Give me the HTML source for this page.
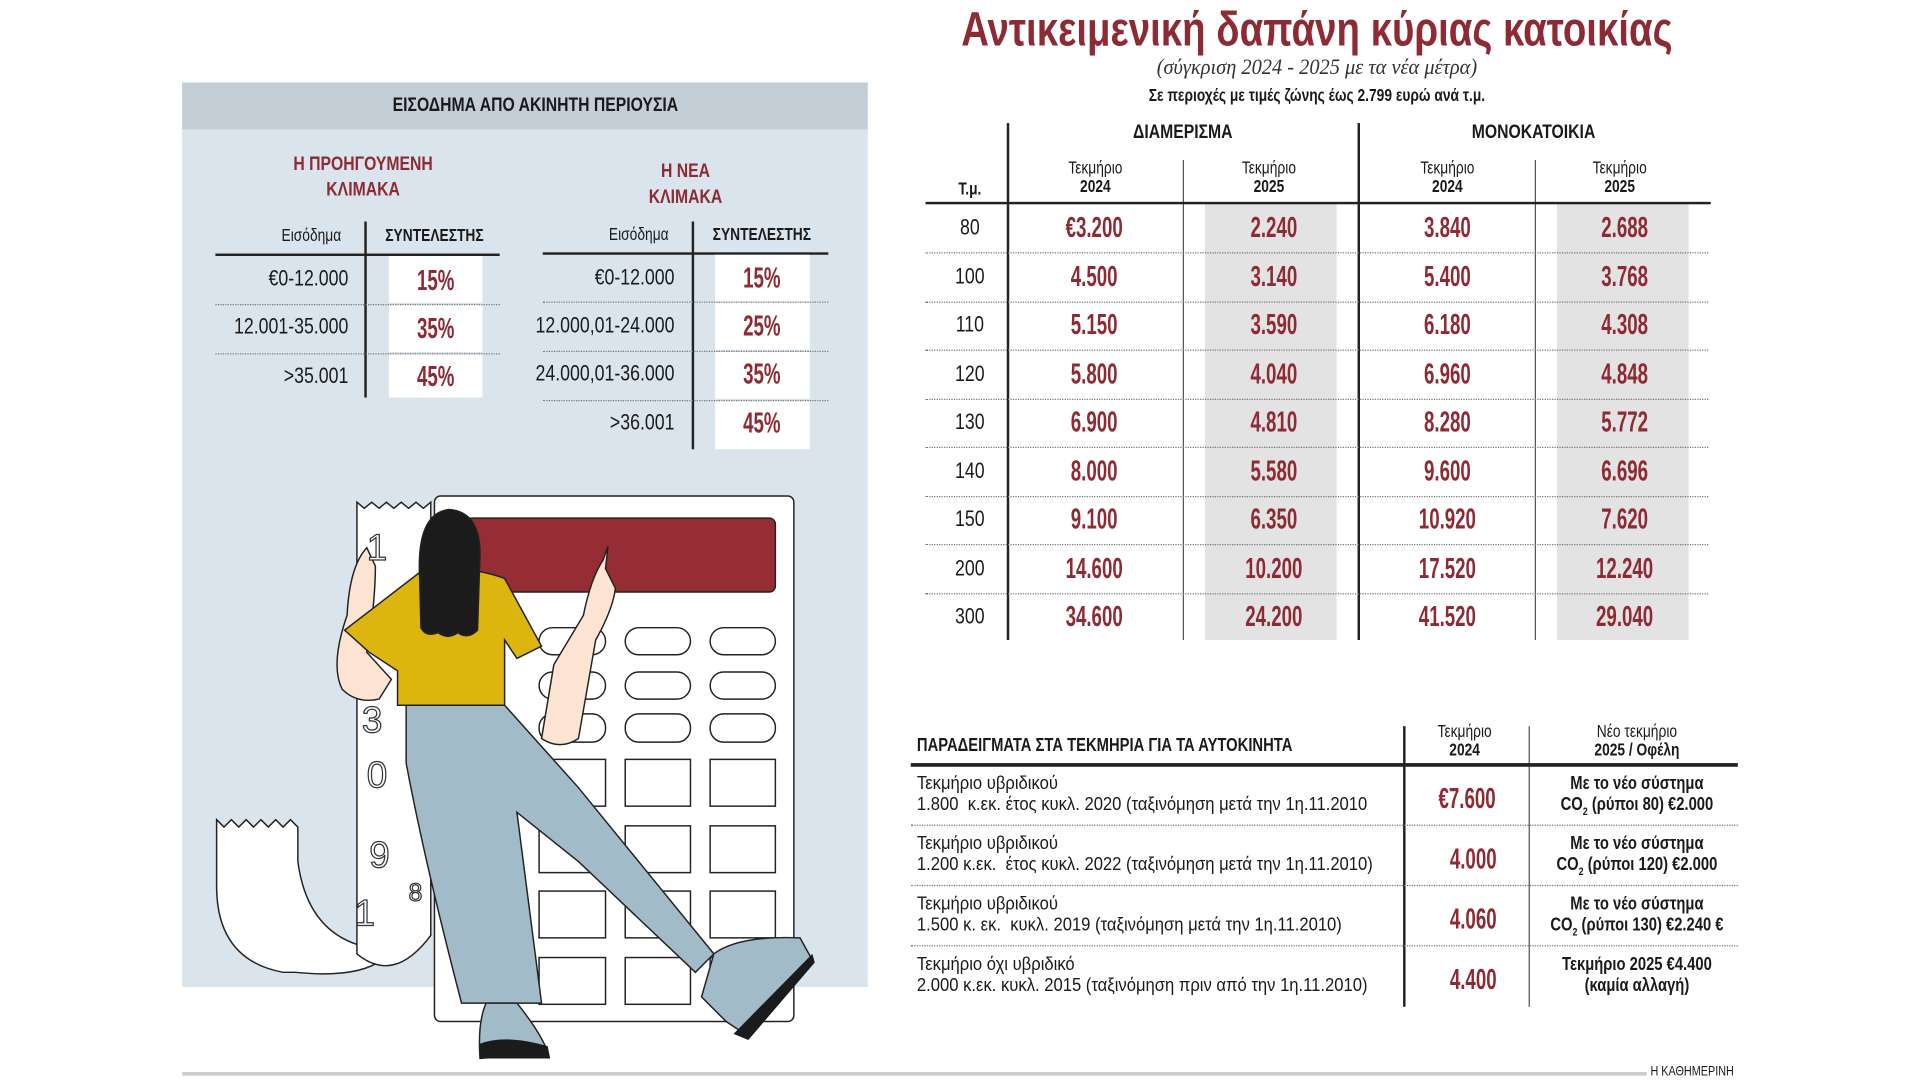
<!DOCTYPE html>
<html><head><meta charset="utf-8"><style>
html,body{margin:0;padding:0;background:#fff;width:1920px;height:1080px;overflow:hidden}
#w{position:absolute;left:0;top:0;width:1560px;height:878px;transform:scale(1.230769);transform-origin:0 0;font-family:"Liberation Sans",sans-serif;color:#1a1a1a}
.a{position:absolute;white-space:nowrap}
.t{transform:scaleX(.8);transform-origin:0 0}
.c{transform:translateX(-50%) scaleX(.8);text-align:center;transform-origin:50% 0}
.r{transform:translateX(-100%) scaleX(.8);transform-origin:100% 0}
.red{color:#8e2a33}
.b{font-weight:bold}
.num{font-size:23px;transform:translate(-50%,-50%) scaleX(0.66);font-weight:bold}
.hl{position:absolute;height:0;border-top:1px dotted #777}
.vl{position:absolute;width:0;border-left:2px solid #222}
</style></head><body><div id="w">

<div class="a" style="left:148px;top:67px;width:557px;height:735px;background:#d9e4ec"></div>
<div class="a" style="left:148px;top:67px;width:557px;height:38px;background:#c3ced7"></div>
<div class="a b c" style="left:435px;top:77px;font-size:16px">ΕΙΣΟΔΗΜΑ ΑΠΟ ΑΚΙΝΗΤΗ ΠΕΡΙΟΥΣΙΑ</div>
<div class="a b c red" style="left:295px;top:123px;font-size:16px;line-height:21px">Η ΠΡΟΗΓΟΥΜΕΝΗ<br>ΚΛΙΜΑΚΑ</div>
<div class="a b c red" style="left:557px;top:129px;font-size:16px;line-height:21px">Η ΝΕΑ<br>ΚΛΙΜΑΚΑ</div>

<div class="a c" style="left:253px;top:183px;font-size:14px">Εισόδημα</div>
<div class="a b c" style="left:353px;top:183px;font-size:14px">ΣΥΝΤΕΛΕΣΤΗΣ</div>
<div class="a" style="left:175px;top:206px;width:231px;height:2px;background:#222"></div>
<div class="vl" style="left:296px;top:180px;height:143px"></div>
<div class="a" style="left:316px;top:208px;width:76px;height:38px;background:#fff"></div>
<div class="a" style="left:316px;top:248px;width:76px;height:38px;background:#fff"></div>
<div class="a" style="left:316px;top:288px;width:76px;height:35px;background:#fff"></div>
<div class="hl" style="left:175px;top:247px;width:231px"></div>
<div class="hl" style="left:175px;top:287px;width:231px"></div>
<div class="a r" style="left:283px;top:216px;font-size:18px">€0-12.000</div>
<div class="a r" style="left:283px;top:255px;font-size:18px">12.001-35.000</div>
<div class="a r" style="left:283px;top:295px;font-size:18px">&gt;35.001</div>
<div class="a red num" style="left:354px;top:228px">15%</div>
<div class="a red num" style="left:354px;top:267px">35%</div>
<div class="a red num" style="left:354px;top:306px">45%</div>

<div class="a c" style="left:519px;top:182px;font-size:14px">Εισόδημα</div>
<div class="a b c" style="left:619px;top:182px;font-size:14px">ΣΥΝΤΕΛΕΣΤΗΣ</div>
<div class="a" style="left:441px;top:205px;width:232px;height:2px;background:#222"></div>
<div class="vl" style="left:562px;top:180px;height:185px"></div>
<div class="a" style="left:581px;top:207px;width:77px;height:38px;background:#fff"></div>
<div class="a" style="left:581px;top:246px;width:77px;height:38px;background:#fff"></div>
<div class="a" style="left:581px;top:286px;width:77px;height:38px;background:#fff"></div>
<div class="a" style="left:581px;top:326px;width:77px;height:39px;background:#fff"></div>
<div class="hl" style="left:441px;top:245px;width:232px"></div>
<div class="hl" style="left:441px;top:285px;width:232px"></div>
<div class="hl" style="left:441px;top:325px;width:232px"></div>
<div class="a r" style="left:548px;top:215px;font-size:18px">€0-12.000</div>
<div class="a r" style="left:548px;top:254px;font-size:18px">12.000,01-24.000</div>
<div class="a r" style="left:548px;top:293px;font-size:18px">24.000,01-36.000</div>
<div class="a r" style="left:548px;top:333px;font-size:18px">&gt;36.001</div>
<div class="a red num" style="left:619px;top:226px">15%</div>
<div class="a red num" style="left:619px;top:265px">25%</div>
<div class="a red num" style="left:619px;top:304px">35%</div>
<div class="a red num" style="left:619px;top:344px">45%</div>

<svg class="a" style="left:0;top:0" width="800" height="878" viewBox="0 0 800 878">
<g stroke="#222" stroke-width="1.2">
<path d="M176 666 l6 6 6-6 6 6 6-6 6 6 6-6 6 6 6-6 6 6 6-6 6 6 V700 Q250 760 300 770 L310 780 Q290 795 240 790 H230 Q176 780 176 720 Z" fill="#fff"/>
<path d="M290 408 l6 5 6-5 6 5 6-5 6 5 6-5 6 5 6-5 6 5 6-5 V760 Q320 800 290 775 Z" fill="#fff"/>
<rect x="353" y="403" width="292" height="427" rx="5" fill="#fff"/>
<rect x="378" y="421" width="252" height="60" rx="5" fill="#962d35"/>
<g fill="#fff">
<rect x="438" y="510" width="54" height="22" rx="11"/><rect x="508" y="510" width="53" height="22" rx="11"/><rect x="577" y="510" width="53" height="22" rx="11"/>
<rect x="438" y="546" width="54" height="22" rx="11"/><rect x="508" y="546" width="53" height="22" rx="11"/><rect x="577" y="546" width="53" height="22" rx="11"/>
<rect x="438" y="580" width="54" height="23" rx="11"/><rect x="508" y="580" width="53" height="23" rx="11"/><rect x="577" y="580" width="53" height="23" rx="11"/>
<rect x="438" y="617" width="54" height="38"/><rect x="508" y="617" width="53" height="38"/><rect x="577" y="617" width="53" height="38"/>
<rect x="438" y="671" width="54" height="38"/><rect x="508" y="671" width="53" height="38"/><rect x="577" y="671" width="53" height="38"/>
<rect x="438" y="724" width="54" height="38"/><rect x="508" y="724" width="53" height="38"/><rect x="577" y="724" width="53" height="38"/>
<rect x="438" y="778" width="54" height="38"/><rect x="508" y="778" width="53" height="38"/><rect x="577" y="778" width="53" height="38"/>
</g>
<path d="M298 445 Q284 460 282 500 Q268 540 278 560 Q290 572 308 568 L318 552 L298 530 Q305 490 305 460 Z" fill="#fde3d2"/>
<path d="M474 500 Q480 470 490 455 L494 444 L492 462 L500 478 Q498 495 484 520 L470 600 Q455 610 440 600 L450 540 Z" fill="#fde3d2"/>
<path d="M345 462 L378 462 Q400 466 410 470 L440 525 L420 535 L410 520 L410 573 L323 573 L323 545 L300 530 L280 512 Z" fill="#dcb60f"/>
<path d="M341 470 Q338 417 365 414 Q390 416 390 450 L388 512 Q380 520 372 514 Q364 520 356 514 Q346 518 342 510 Z" fill="#1b1b1b"/>
<path d="M330 573 L410 573 L470 640 L580 775 L565 790 L470 700 L420 660 L440 815 L375 815 Q345 700 330 620 Z" fill="#a1bbc8"/>
<path d="M580 775 Q600 760 650 762 L660 780 L605 840 L590 830 L570 810 Z" fill="#a1bbc8"/>
<path d="M395 815 L420 815 Q440 840 445 855 L390 860 Q388 830 395 815 Z" fill="#a1bbc8"/>
</g>
<path d="M390 848 Q410 840 445 850 L447 860 H390 Z" fill="#1b1b1b"/>
<path d="M660 775 L662 782 L608 845 L596 840 Z" fill="#1b1b1b"/>
<g font-family="Liberation Sans" font-size="30" fill="#fff" stroke="#333" stroke-width="1">
<text x="298" y="455">1</text><text x="294" y="595">3</text><text x="298" y="640">0</text><text x="300" y="705">9</text><text x="332" y="732" font-size="20">8</text><text x="288" y="752">1</text></g>
</svg>

<div class="a red b" style="left:1070px;top:3px;font-size:39px;transform:translateX(-50%) scaleX(.8);transform-origin:50% 0">Αντικειμενική δαπάνη κύριας κατοικίας</div>
<div class="a" style="left:1070px;top:44px;font-size:18px;font-style:italic;font-family:'Liberation Serif',serif;color:#333;transform:translateX(-50%) scaleX(.92);transform-origin:50% 0">(σύγκριση 2024 - 2025 με τα νέα μέτρα)</div>
<div class="a c b" style="left:1070px;top:69px;font-size:14px">Σε περιοχές με τιμές ζώνης έως 2.799 ευρώ ανά τ.μ.</div>

<div class="vl" style="left:818px;top:100px;height:420px"></div>
<div class="vl" style="left:1103px;top:100px;height:420px"></div>
<div class="a" style="left:961px;top:130px;width:1px;height:390px;background:#555"></div>
<div class="a" style="left:1247px;top:130px;width:1px;height:390px;background:#555"></div>
<div class="a" style="left:979px;top:166px;width:107px;height:354px;background:#e3e3e3"></div>
<div class="a" style="left:1265px;top:166px;width:107px;height:354px;background:#e3e3e3"></div>
<div class="a b c" style="left:961px;top:99px;font-size:16px">ΔΙΑΜΕΡΙΣΜΑ</div>
<div class="a b c" style="left:1246px;top:99px;font-size:16px">ΜΟΝΟΚΑΤΟΙΚΙΑ</div>
<div class="a c" style="left:890px;top:129px;font-size:14px;line-height:15px">Τεκμήριο<br><b>2024</b></div>
<div class="a c" style="left:1031px;top:129px;font-size:14px;line-height:15px">Τεκμήριο<br><b>2025</b></div>
<div class="a c" style="left:1176px;top:129px;font-size:14px;line-height:15px">Τεκμήριο<br><b>2024</b></div>
<div class="a c" style="left:1316px;top:129px;font-size:14px;line-height:15px">Τεκμήριο<br><b>2025</b></div>
<div class="a b c" style="left:788px;top:145px;font-size:14px">Τ.μ.</div>
<div class="a" style="left:752px;top:164px;width:638px;height:2px;background:#222"></div>

<div id="rows"></div>

<div class="a b t" style="left:745px;top:597px;font-size:15px">ΠΑΡΑΔΕΙΓΜΑΤΑ ΣΤΑ ΤΕΚΜΗΡΙΑ ΓΙΑ ΤΑ ΑΥΤΟΚΙΝΗΤΑ</div>
<div class="a c" style="left:1190px;top:587px;font-size:14px;line-height:15px">Τεκμήριο<br><b>2024</b></div>
<div class="a c" style="left:1330px;top:587px;font-size:14px;line-height:15px">Νέο τεκμήριο<br><b>2025 / Οφέλη</b></div>
<div class="vl" style="left:1140px;top:590px;height:228px"></div>
<div class="a" style="left:1242px;top:590px;width:1px;height:228px;background:#555"></div>
<div class="a" style="left:740px;top:620px;width:672px;height:3px;background:#222"></div>
<div class="hl" style="left:740px;top:670px;width:672px"></div>
<div class="hl" style="left:740px;top:719px;width:672px"></div>
<div class="hl" style="left:740px;top:768px;width:672px"></div>

<div class="a" style="left:745px;top:628px;font-size:15px;line-height:17px;transform:scaleX(.9);transform-origin:0 0">Τεκμήριο υβριδικού<br>1.800&nbsp; κ.εκ. έτος κυκλ. 2020 (ταξινόμηση μετά την 1η.11.2010</div>
<div class="a" style="left:745px;top:677px;font-size:15px;line-height:17px;transform:scaleX(.9);transform-origin:0 0">Τεκμήριο υβριδικού<br>1.200 κ.εκ.&nbsp; έτος κυκλ. 2022 (ταξινόμηση μετά την 1η.11.2010)</div>
<div class="a" style="left:745px;top:726px;font-size:15px;line-height:17px;transform:scaleX(.9);transform-origin:0 0">Τεκμήριο υβριδικού<br>1.500 κ. εκ.&nbsp; κυκλ. 2019 (ταξινόμηση μετά την 1η.11.2010)</div>
<div class="a" style="left:745px;top:775px;font-size:15px;line-height:17px;transform:scaleX(.9);transform-origin:0 0">Τεκμήριο όχι υβριδικό<br>2.000 κ.εκ. κυκλ. 2015 (ταξινόμηση πριν από την 1η.11.2010)</div>
<div class="a red num" style="left:1192px;top:649px">€7.600</div>
<div class="a red num" style="left:1197px;top:698px">4.000</div>
<div class="a red num" style="left:1197px;top:747px">4.060</div>
<div class="a red num" style="left:1197px;top:796px">4.400</div>
<div class="a b c" style="left:1330px;top:628px;font-size:15px;line-height:17px">Με το νέο σύστημα<br>CO<sub style="font-size:9px">2</sub> (ρύποι 80) €2.000</div>
<div class="a b c" style="left:1330px;top:677px;font-size:15px;line-height:17px">Με το νέο σύστημα<br>CO<sub style="font-size:9px">2</sub> (ρύποι 120) €2.000</div>
<div class="a b c" style="left:1330px;top:726px;font-size:15px;line-height:17px">Με το νέο σύστημα<br>CO<sub style="font-size:9px">2</sub> (ρύποι 130) €2.240 €</div>
<div class="a b c" style="left:1330px;top:775px;font-size:15px;line-height:17px">Τεκμήριο 2025 €4.400<br>(καμία αλλαγή)</div>

<div class="a" style="left:148px;top:871px;width:1190px;height:3px;background:#ccc"></div>
<div class="a t" style="left:1341px;top:865px;font-size:11px">Η ΚΑΘΗΜΕΡΙΝΗ</div>

<script>
var d=[["80","€3.200","2.240","3.840","2.688"],["100","4.500","3.140","5.400","3.768"],["110","5.150","3.590","6.180","4.308"],["120","5.800","4.040","6.960","4.848"],["130","6.900","4.810","8.280","5.772"],["140","8.000","5.580","9.600","6.696"],["150","9.100","6.350","10.920","7.620"],["200","14.600","10.200","17.520","12.240"],["300","34.600","24.200","41.520","29.040"]];
var h="";d.forEach(function(r,i){var y=185+i*39.5;
h+='<div class="a num" style="left:788px;top:'+y+'px;font-size:18px;font-weight:normal;transform:translate(-50%,-50%) scaleX(.8)">'+r[0]+'</div>';
h+='<div class="a num red" style="left:889px;top:'+y+'px">'+r[1]+'</div>';
h+='<div class="a num red" style="left:1035px;top:'+y+'px">'+r[2]+'</div>';
h+='<div class="a num red" style="left:1176px;top:'+y+'px">'+r[3]+'</div>';
h+='<div class="a num red" style="left:1320px;top:'+y+'px">'+r[4]+'</div>';
if(i<8)h+='<div class="hl" style="left:752px;top:'+(y+20)+'px;width:636px"></div>';});
document.getElementById("rows").innerHTML=h;
</script>
</div></body></html>
